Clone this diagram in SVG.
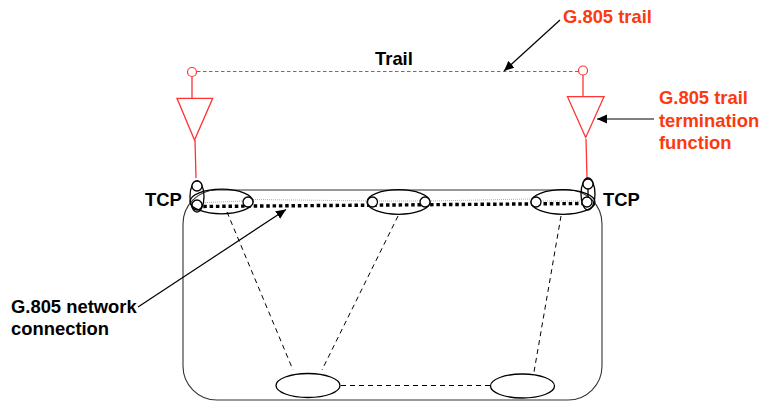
<svg xmlns="http://www.w3.org/2000/svg" width="762" height="403" viewBox="0 0 762 403">
<style>
text{font-family:"Liberation Sans",Arial,sans-serif;font-weight:bold;font-size:18.4px}
.k{fill:#000}.o{fill:#fb3a10}
.e{fill:none;stroke:#000;stroke-width:1.3}
.c{fill:#fff;stroke:#000;stroke-width:1.3}
.r{fill:none;stroke:#f33;stroke-width:1.3}
.d{fill:none;stroke:#000;stroke-width:1;stroke-dasharray:5 4}
.a{fill:none;stroke:#000;stroke-width:1.2;marker-end:url(#ah)}
</style>
<defs><marker id="ah" markerUnits="userSpaceOnUse" markerWidth="11" markerHeight="10" refX="10" refY="5" orient="auto"><path d="M0 0.500L10 5L0 9.500Z" fill="#000"/></marker></defs>
<g id="network"><rect x="183" y="190" width="419" height="210" rx="34" ry="34" fill="none" stroke="#333" stroke-width="1.1"/></g>
<g id="connectors">
<path class="d" d="M227 212L293 370M398 216L322 370M561 216L534 372M341 385.500L491 385.500"/>
<path d="M197 71.500H579" fill="none" stroke="#e22" stroke-width="0.9" stroke-dasharray="3.500 2.500"/>
<path d="M253 199.500L377 201M429 201L530 199M197 203L244 201M377 201H420M541 201H582" fill="none" stroke="#999" stroke-width="0.8" stroke-dasharray="1 1"/>
<path d="M197 206.500L585 203.500" fill="none" stroke="#000" stroke-width="3.400" stroke-dasharray="3.500 2.800"/>
<path class="r" d="M192 76V98M195 140L196 178M583 75V96M586 139L587 178"/>
<path d="M588 189V198" stroke="#000" stroke-width="1.3" fill="none"/>
<path class="a" d="M560 20L504 71"/>
<path class="a" d="M654 119H597"/>
<path class="a" d="M138 307L286 209.500"/>
</g>
<g id="tcp-left"><ellipse class="e" cx="197" cy="196.500" rx="7" ry="15.500"/><circle class="c" cx="197" cy="186" r="5"/><circle class="c" cx="197" cy="205" r="5"/><text class="k" x="145" y="206">TCP</text></g>
<g id="tcp-right"><ellipse class="e" cx="588" cy="194" rx="7" ry="16"/><circle class="c" cx="588" cy="184" r="5"/><circle class="c" cx="587" cy="202" r="5"/><text class="k" x="603" y="206">TCP</text></g>
<g id="subnet-left"><ellipse class="e" cx="221.500" cy="201.500" rx="31.500" ry="12.300"/><circle class="c" cx="248" cy="202" r="5"/></g>
<g id="subnet-mid"><ellipse class="e" cx="398.500" cy="202" rx="31.500" ry="12.300"/><circle class="c" cx="372.500" cy="202" r="5"/><circle class="c" cx="425" cy="202" r="5"/></g>
<g id="subnet-right"><ellipse class="e" cx="563" cy="202" rx="32" ry="12.300"/><circle class="c" cx="536" cy="202" r="5"/></g>
<g id="bottom-left"><ellipse class="e" cx="308" cy="385.500" rx="32" ry="12"/></g>
<g id="bottom-right"><ellipse class="e" cx="522.500" cy="386" rx="32" ry="12"/></g>
<g id="ttf-left"><circle cx="192" cy="72" r="4.500" fill="#fff" stroke="#f33" stroke-width="1.2"/><path class="r" d="M177 98.300H212.700L194.500 140Z"/></g>
<g id="ttf-right"><circle cx="583" cy="70.500" r="4.500" fill="#fff" stroke="#f33" stroke-width="1.2"/><path class="r" d="M567.500 96.700H604L585.700 137.500Z"/></g>
<g id="labels">
<text class="k" x="375" y="65">Trail</text>
<text class="o" x="563" y="23">G.805 trail</text>
<text class="o" x="659" y="103.500">G.805 trail</text>
<text class="o" x="659" y="126.500">termination</text>
<text class="o" x="659" y="149">function</text>
<text class="k" x="11" y="313">G.805 network</text>
<text class="k" x="11" y="335">connection</text>
</g>
</svg>
